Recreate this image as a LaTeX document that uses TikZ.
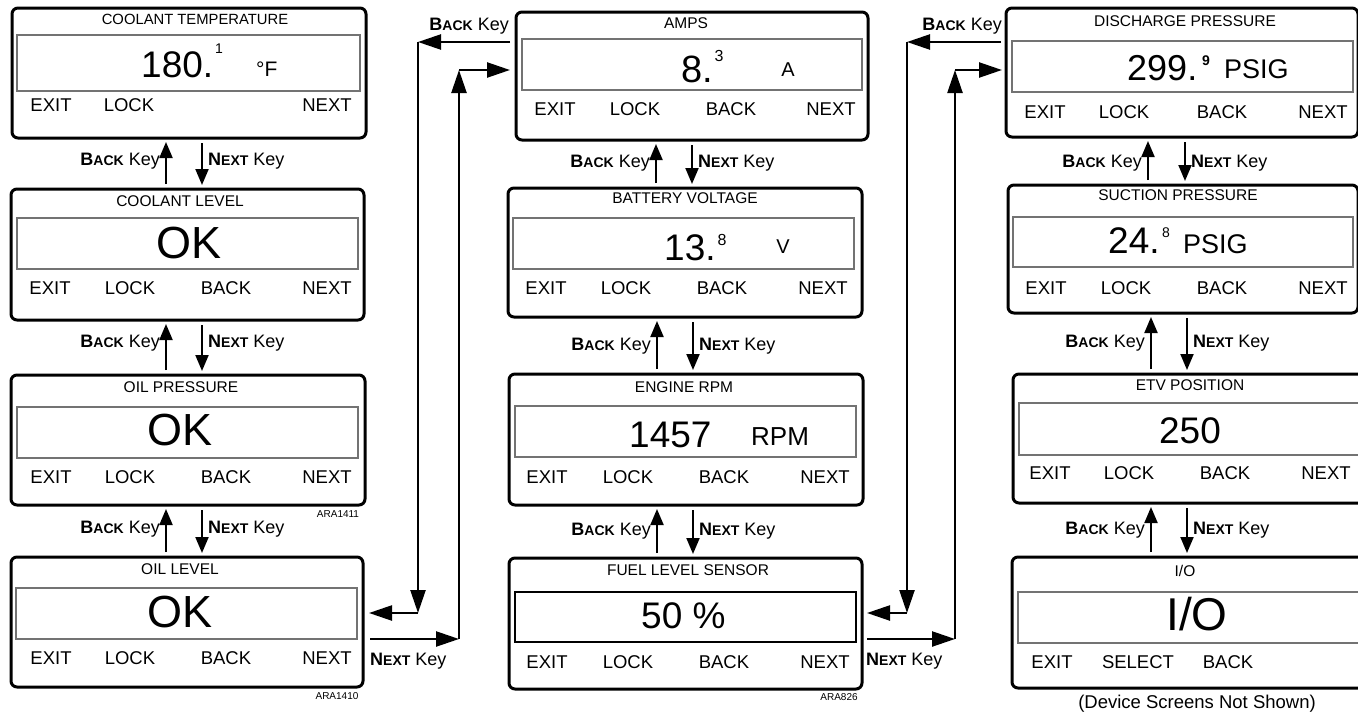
\documentclass[tikz,border=0pt]{standalone}
\usepackage{fontspec}
\setmainfont{Liberation Sans}
\usetikzlibrary{arrows.meta}
\newcommand\bkey{{\bfseries B{\fontsize{14}{14}\selectfont ACK}} Key}
\newcommand\nkey{{\bfseries N{\fontsize{14}{14}\selectfont EXT}} Key}
% #1 upper panel, #2 lower panel, #3 back-arrow x, #4 next-arrow x, #5 label baseline
\newcommand\keypair[5]{%
 \draw[keyar] (#2.north -| #3,0) -- (#1.south -| #3,0);
 \draw[keyar] (#1.south -| #4,0) -- (#2.north -| #4,0);
 \node[keylbl,anchor=base east] (#1-bk) at (#3-6,#5) {\bkey};
 \node[keylbl,anchor=base west] (#1-nx) at (#4+6,#5) {\nkey};}
% #1 prefix, #2 baseline, #3 exit x, #4 lock x, #5 back x, #6 next x
\newcommand\fourlbls[6]{%
 \node[lbl] (#1-ex) at (#3,#2) {EXIT};
 \node[lbl] (#1-lk) at (#4,#2) {LOCK};
 \node[lbl] (#1-bc) at (#5,#2) {BACK};
 \node[lbl] (#1-nt) at (#6,#2) {NEXT};}
\begin{document}
\begin{tikzpicture}[x=1pt,y=-1pt,
 panel/.style={draw,line width=3pt,rounded corners=6pt,anchor=north west,inner sep=0pt,outer sep=0pt},
 scr/.style={draw=black!55,line width=1.3pt,anchor=north west,inner sep=0pt,outer sep=0pt},
 ttl/.style={anchor=base,inner sep=0pt,font=\fontsize{15.5}{15.5}\selectfont},
 lbl/.style={anchor=base,inner sep=0pt,font=\fontsize{18.5}{18.5}\selectfont},
 val/.style={anchor=base west,inner sep=0pt,font=\fontsize{37}{37}\selectfont},
 okv/.style={anchor=base,inner sep=0pt,font=\fontsize{45}{45}\selectfont},
 supv/.style={anchor=base,inner sep=0pt,font=\fontsize{14}{14}\selectfont},
 unitv/.style={anchor=base,inner sep=0pt,font=\fontsize{20}{20}\selectfont},
 codev/.style={anchor=base,inner sep=0pt,font=\fontsize{10}{10}\selectfont},
 keylbl/.style={inner sep=0pt,font=\fontsize{18}{18}\selectfont},
 keyar/.style={line width=2pt,-{Triangle[length=16pt,width=13pt]},shorten >=4pt,shorten <=5pt},
 conn/.style={line width=2.4pt,-{Triangle[length=23pt,width=15pt]}},
]
\useasboundingbox (0,0) rectangle (1358,712);
\clip (0,0) rectangle (1358,712);
\fill[white] (0,0) rectangle (1358,712);

% ---------- column 1 ----------
\node[panel,minimum width=354pt,minimum height=130pt] (p1) at (12,8) {};
\node[scr,minimum width=343pt,minimum height=56pt] (p1s) at (17,35) {};
\node[ttl,font=\fontsize{14.8}{14.8}\selectfont] (p1t) at (195,24) {COOLANT TEMPERATURE};
\node[val] (p1v) at (141,77) {180.};
\node[supv] (p1e) at (219,53) {1};
\node[unitv,anchor=base west,font=\fontsize{21}{21}\selectfont] (p1u) at (256,76) {°F};
\node[lbl] (p1-ex) at (51,111.6) {EXIT};
\node[lbl] (p1-lk) at (129,111.6) {LOCK};
\node[lbl] (p1-nt) at (327,111.6) {NEXT};

\node[panel,minimum width=353pt,minimum height=131pt] (p2) at (11,189) {};
\node[scr,minimum width=341pt,minimum height=51pt] (p2s) at (17,218) {};
\node[ttl] (p2t) at (180,206.5) {COOLANT LEVEL};
\node[okv] (p2v) at (189,258) {OK};
\fourlbls{p2}{294.6}{50}{130}{226}{327}

\node[panel,minimum width=354pt,minimum height=130pt] (p3) at (11,375) {};
\node[scr,minimum width=341pt,minimum height=51pt] (p3s) at (17,407) {};
\node[ttl] (p3t) at (181,392.5) {OIL PRESSURE};
\node[okv] (p3v) at (180,445) {OK};
\fourlbls{p3}{483.6}{51}{130}{226}{327}
\node[codev] (p3c) at (338,517) {ARA1411};

\node[panel,minimum width=352pt,minimum height=130pt] (p4) at (11,557) {};
\node[scr,minimum width=341pt,minimum height=51pt] (p4s) at (16,588) {};
\node[ttl] (p4t) at (180,574.5) {OIL LEVEL};
\node[okv] (p4v) at (180,627) {OK};
\fourlbls{p4}{664.6}{51}{130}{226}{327}
\node[codev] (p4c) at (337,699) {ARA1410};

% ---------- column 2 ----------
\node[panel,minimum width=352pt,minimum height=128pt] (amps) at (516,12) {};
\node[scr,minimum width=340pt,minimum height=51pt] (ampss) at (522,39) {};
\node[ttl] (ampst) at (686,28.5) {AMPS};
\node[val,font=\fontsize{38}{38}\selectfont] (ampsv) at (681.5,82) {8.};
\node[supv,font=\fontsize{16}{16}\selectfont] (ampse) at (719,61) {3};
\node[unitv] (ampsu) at (788,76) {A};
\fourlbls{amps}{115.6}{555}{635}{731}{831}

\node[panel,minimum width=354pt,minimum height=129pt] (bat) at (508,188) {};
\node[scr,minimum width=341pt,minimum height=51pt] (bats) at (513,218) {};
\node[ttl] (batt) at (685,203.5) {BATTERY VOLTAGE};
\node[val] (batv) at (664,260) {13.};
\node[supv,font=\fontsize{16}{16}\selectfont] (bate) at (722,245) {8};
\node[unitv] (batu) at (783,253) {V};
\fourlbls{bat}{294.6}{546}{626}{722}{823}

\node[panel,minimum width=354pt,minimum height=131pt] (rpm) at (509,374) {};
\node[scr,minimum width=341pt,minimum height=51pt] (rpms) at (515,406) {};
\node[ttl] (rpmt) at (684,392.5) {ENGINE RPM};
\node[val] (rpmv) at (629,447) {1457};
\node[unitv,anchor=base west,font=\fontsize{26}{26}\selectfont] (rpmu) at (751,445) {RPM};
\fourlbls{rpm}{483.6}{547}{628}{724}{825}

\node[panel,minimum width=353pt,minimum height=131pt] (fuel) at (509,558) {};
\node[scr,draw=black,line width=1.1pt,minimum width=341pt,minimum height=50pt] (fuels) at (515,592) {};
\node[ttl] (fuelt) at (688,575.5) {FUEL LEVEL SENSOR};
\node[val] (fuelv) at (641,628) {50 \%};
\fourlbls{fuel}{668.6}{547}{628}{724}{825}
\node[codev] (fuelc) at (839,700) {ARA826};

% ---------- column 3 ----------
\node[panel,minimum width=352pt,minimum height=129pt] (dis) at (1006,8) {};
\node[scr,minimum width=341pt,minimum height=51pt] (diss) at (1012,41) {};
\node[ttl] (dist) at (1185,26.5) {DISCHARGE PRESSURE};
\node[val,font=\fontsize{36}{36}\selectfont] (disv) at (1127,80) {299.};
\node[supv,font=\bfseries\fontsize{14}{14}\selectfont] (dise) at (1206,65) {9};
\node[unitv,anchor=base west,font=\fontsize{27}{27}\selectfont] (disu) at (1224,78) {PSIG};
\fourlbls{dis}{118.6}{1045}{1124}{1222}{1323}

\node[panel,minimum width=350pt,minimum height=128pt] (suc) at (1008,185) {};
\node[scr,minimum width=340pt,minimum height=50pt] (sucs) at (1013,217) {};
\node[ttl] (suct) at (1178,200.5) {SUCTION PRESSURE};
\node[val] (sucv) at (1108,253) {24.};
\node[supv] (suce) at (1166,237) {8};
\node[unitv,anchor=base west,font=\fontsize{27}{27}\selectfont] (sucu) at (1183,253) {PSIG};
\fourlbls{suc}{294.6}{1046}{1126}{1222}{1323}

\node[panel,minimum width=354pt,minimum height=129pt] (etv) at (1013,374) {};
\node[scr,minimum width=341pt,minimum height=52pt] (etvs) at (1019,403) {};
\node[ttl] (etvt) at (1190,390.5) {ETV POSITION};
\node[val,anchor=base] (etvv) at (1190,443) {250};
\fourlbls{etv}{479.6}{1050}{1129}{1225}{1326}

\node[panel,minimum width=354pt,minimum height=131pt] (io) at (1012,557) {};
\node[scr,minimum width=342pt,minimum height=51pt] (ios) at (1018,592) {};
\node[ttl] (iot) at (1185,576.5) {I/O};
\node[okv,font=\fontsize{46}{46}\selectfont] (iov) at (1197,630) {I/O};
\node[lbl] (io-ex) at (1052,668.6) {EXIT};
\node[lbl] (io-sl) at (1138,668.6) {SELECT};
\node[lbl] (io-bc) at (1228,668.6) {BACK};
\node[lbl] (ionote) at (1197,708) {(Device Screens Not Shown)};

% ---------- key arrows between screens ----------
\keypair{p1}{p2}{166}{202}{165.5}
\keypair{p2}{p3}{166}{202}{347}
\keypair{p3}{p4}{166}{202}{533}
\keypair{amps}{bat}{656}{692}{167}
\keypair{bat}{rpm}{657}{693}{350}
\keypair{rpm}{fuel}{657}{693}{535}
\keypair{dis}{suc}{1148}{1185}{167}
\keypair{suc}{etv}{1151}{1187}{347}
\keypair{etv}{io}{1151}{1187}{534}

% ---------- long connectors ----------
\coordinate (b1a) at (418,42);
\coordinate (b1b) at (418,613);
\coordinate (n1a) at (459,639);
\coordinate (n1b) at (459,70);
\coordinate (b2a) at (907,42);
\coordinate (b2b) at (907,613);
\coordinate (n2a) at (955,639);
\coordinate (n2b) at (955,70);

\draw[conn,shorten <=6pt] (amps.west |- b1a) -- (b1a);
\draw[conn] (b1a) -- (b1b);
\draw[conn,shorten >=6pt] (b1b) -- (b1b -| p4.east);
\draw[conn,shorten <=7pt] (p4.east |- n1a) -- (n1a);
\draw[conn] (n1a) -- (n1b);
\draw[conn,shorten >=6pt] (n1b) -- (n1b -| amps.west);

\draw[conn,shorten <=5pt] (dis.west |- b2a) -- (b2a);
\draw[conn] (b2a) -- (b2b);
\draw[conn,shorten >=5pt] (b2b) -- (b2b -| fuel.east);
\draw[conn,shorten <=5pt] (fuel.east |- n2a) -- (n2a);
\draw[conn] (n2a) -- (n2b);
\draw[conn,shorten >=4pt] (n2b) -- (n2b -| dis.west);

\node[keylbl,anchor=base east] (c1bk) at (509,30) {\bkey};
\node[keylbl,anchor=base west] (c1nx) at (370,665) {\nkey};
\node[keylbl,anchor=base east] (c2bk) at (1002,30) {\bkey};
\node[keylbl,anchor=base west] (c2nx) at (866,665) {\nkey};
\end{tikzpicture}
\end{document}
